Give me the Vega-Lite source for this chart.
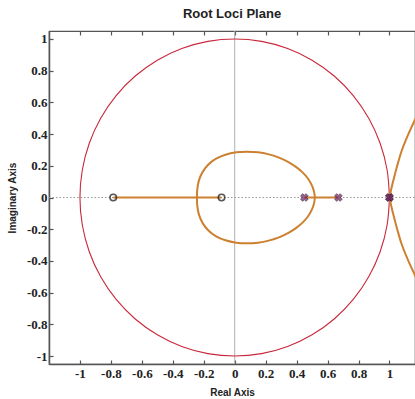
{
  "$schema": "https://vega.github.io/schema/vega-lite/v6.json",
  "autosize": "none",
  "width": 366,
  "height": 333,
  "padding": {"left": 49, "top": 31, "right": 0, "bottom": 35},
  "background": "white",
  "title": {"text": "Root Loci Plane", "fontSize": 13, "fontWeight": "bold", "font": "Liberation Sans", "color": "#222", "anchor": "middle", "offset": 9},
  "config": {
    "view": {"stroke": "#555", "strokeWidth": 1.2},
    "axis": {"grid": false, "domainColor": "#555", "domainWidth": 1.5, "tickColor": "#555", "tickSize": -4, "tickWidth": 1.2,
      "labelFont": "Liberation Sans Narrow", "labelFontWeight": "bold", "labelFontSize": 13, "labelColor": "#222",
      "titleFont": "Liberation Sans", "titleFontWeight": "bold", "titleFontSize": 10, "titleColor": "#222"}
  },
  "datasets": {
    "circle": [
      {"i":0,"x":1,"y":0},{"i":1,"x":0.9848,"y":0.1736},{"i":2,"x":0.9397,"y":0.342},{"i":3,"x":0.866,"y":0.5},{"i":4,"x":0.766,"y":0.6428},{"i":5,"x":0.6428,"y":0.766},{"i":6,"x":0.5,"y":0.866},{"i":7,"x":0.342,"y":0.9397},{"i":8,"x":0.1736,"y":0.9848},{"i":9,"x":0,"y":1},
      {"i":10,"x":-0.1736,"y":0.9848},{"i":11,"x":-0.342,"y":0.9397},{"i":12,"x":-0.5,"y":0.866},{"i":13,"x":-0.6428,"y":0.766},{"i":14,"x":-0.766,"y":0.6428},{"i":15,"x":-0.866,"y":0.5},{"i":16,"x":-0.9397,"y":0.342},{"i":17,"x":-0.9848,"y":0.1736},{"i":18,"x":-1,"y":0},
      {"i":19,"x":-0.9848,"y":-0.1736},{"i":20,"x":-0.9397,"y":-0.342},{"i":21,"x":-0.866,"y":-0.5},{"i":22,"x":-0.766,"y":-0.6428},{"i":23,"x":-0.6428,"y":-0.766},{"i":24,"x":-0.5,"y":-0.866},{"i":25,"x":-0.342,"y":-0.9397},{"i":26,"x":-0.1736,"y":-0.9848},{"i":27,"x":0,"y":-1},
      {"i":28,"x":0.1736,"y":-0.9848},{"i":29,"x":0.342,"y":-0.9397},{"i":30,"x":0.5,"y":-0.866},{"i":31,"x":0.6428,"y":-0.766},{"i":32,"x":0.766,"y":-0.6428},{"i":33,"x":0.866,"y":-0.5},{"i":34,"x":0.9397,"y":-0.342},{"i":35,"x":0.9848,"y":-0.1736},{"i":36,"x":1,"y":0}
    ],
    "locus": [
      {"g":"loop","i":0,"x":0.518,"y":0},{"g":"loop","i":1,"x":0.512,"y":0.04},{"g":"loop","i":2,"x":0.497,"y":0.08},{"g":"loop","i":3,"x":0.473,"y":0.12},{"g":"loop","i":4,"x":0.44,"y":0.157},{"g":"loop","i":5,"x":0.4,"y":0.19},{"g":"loop","i":6,"x":0.35,"y":0.222},{"g":"loop","i":7,"x":0.29,"y":0.25},{"g":"loop","i":8,"x":0.22,"y":0.272},{"g":"loop","i":9,"x":0.15,"y":0.285},{"g":"loop","i":10,"x":0.08,"y":0.289},{"g":"loop","i":11,"x":0.01,"y":0.285},{"g":"loop","i":12,"x":-0.06,"y":0.27},{"g":"loop","i":13,"x":-0.12,"y":0.245},{"g":"loop","i":14,"x":-0.17,"y":0.208},{"g":"loop","i":15,"x":-0.208,"y":0.16},{"g":"loop","i":16,"x":-0.232,"y":0.105},{"g":"loop","i":17,"x":-0.242,"y":0.05},{"g":"loop","i":18,"x":-0.244,"y":0},
      {"g":"loop","i":19,"x":-0.242,"y":-0.05},{"g":"loop","i":20,"x":-0.232,"y":-0.105},{"g":"loop","i":21,"x":-0.208,"y":-0.16},{"g":"loop","i":22,"x":-0.17,"y":-0.208},{"g":"loop","i":23,"x":-0.12,"y":-0.245},{"g":"loop","i":24,"x":-0.06,"y":-0.27},{"g":"loop","i":25,"x":0.01,"y":-0.285},{"g":"loop","i":26,"x":0.08,"y":-0.289},{"g":"loop","i":27,"x":0.15,"y":-0.285},{"g":"loop","i":28,"x":0.22,"y":-0.272},{"g":"loop","i":29,"x":0.29,"y":-0.25},{"g":"loop","i":30,"x":0.35,"y":-0.222},{"g":"loop","i":31,"x":0.4,"y":-0.19},{"g":"loop","i":32,"x":0.44,"y":-0.157},{"g":"loop","i":33,"x":0.473,"y":-0.12},{"g":"loop","i":34,"x":0.497,"y":-0.08},{"g":"loop","i":35,"x":0.512,"y":-0.04},{"g":"loop","i":36,"x":0.518,"y":0},
      {"g":"seg1","i":0,"x":-0.785,"y":0},{"g":"seg1","i":1,"x":-0.085,"y":0},
      {"g":"seg2","i":0,"x":0.45,"y":0},{"g":"seg2","i":1,"x":0.67,"y":0},
      {"g":"up","i":0,"x":1,"y":0},{"g":"up","i":1,"x":1.012,"y":0.055},{"g":"up","i":2,"x":1.027,"y":0.115},{"g":"up","i":3,"x":1.05,"y":0.2},{"g":"up","i":4,"x":1.079,"y":0.295},{"g":"up","i":5,"x":1.12,"y":0.395},{"g":"up","i":6,"x":1.165,"y":0.491},{"g":"up","i":7,"x":1.2,"y":0.56},
      {"g":"down","i":0,"x":1,"y":0},{"g":"down","i":1,"x":1.012,"y":-0.055},{"g":"down","i":2,"x":1.027,"y":-0.115},{"g":"down","i":3,"x":1.05,"y":-0.2},{"g":"down","i":4,"x":1.079,"y":-0.295},{"g":"down","i":5,"x":1.12,"y":-0.395},{"g":"down","i":6,"x":1.165,"y":-0.491},{"g":"down","i":7,"x":1.2,"y":-0.56}
    ],
    "zeros": [{"x":-0.785,"y":0},{"x":-0.085,"y":0}],
    "poles": [{"x":0.45,"y":0},{"x":0.67,"y":0},{"x":1,"y":0},{"x":1,"y":0}],
    "vline": [{"x":0,"y":-1.05,"y2":1.05}],
    "hline": [{"x":-1.2,"x2":1.2,"y":0}]
  },
  "resolve": {"axis": {"x": "independent", "y": "independent"}},
  "layer": [
    {
      "data": {"name": "vline"},
      "mark": {"type": "rule", "color": "#b0b0b0", "strokeWidth": 1},
      "encoding": {
        "x": {"field": "x", "type": "quantitative", "scale": {"domain": [-1.2, 1.165], "nice": false, "zero": false},
          "axis": {"orient": "bottom", "values": [-1,-0.8,-0.6,-0.4,-0.2,0,0.2,0.4,0.6,0.8,1], "labelExpr": "'' + datum.value", "labelPadding": 7, "title": "Real Axis", "titlePadding": 7}},
        "y": {"field": "y", "type": "quantitative", "scale": {"domain": [-1.05, 1.05], "nice": false, "zero": false},
          "axis": {"orient": "left", "values": [-1,-0.8,-0.6,-0.4,-0.2,0,0.2,0.4,0.6,0.8,1], "labelExpr": "'' + datum.value", "labelPadding": 6, "title": "Imaginary Axis", "titlePadding": 9}},
        "y2": {"field": "y2"}
      }
    },
    {
      "data": {"name": "hline"},
      "mark": {"type": "rule", "color": "#999", "strokeWidth": 1, "strokeDash": [1.5, 2], "clip": true},
      "encoding": {
        "x": {"field": "x", "type": "quantitative", "axis": {"orient": "top", "values": [-1,-0.8,-0.6,-0.4,-0.2,0,0.2,0.4,0.6,0.8,1], "labels": false, "title": null, "domain": false}},
        "x2": {"field": "x2"},
        "y": {"field": "y", "type": "quantitative", "axis": null}
      }
    },
    {
      "data": {"name": "circle"},
      "mark": {"type": "line", "color": "#c8283c", "strokeWidth": 1.1, "interpolate": "cardinal", "clip": true},
      "encoding": {
        "x": {"field": "x", "type": "quantitative", "axis": null},
        "y": {"field": "y", "type": "quantitative", "axis": null},
        "order": {"field": "i"}
      }
    },
    {
      "data": {"name": "locus"},
      "mark": {"type": "line", "color": "#cc8030", "strokeWidth": 2, "interpolate": "catmull-rom", "clip": true},
      "encoding": {
        "x": {"field": "x", "type": "quantitative", "axis": null},
        "y": {"field": "y", "type": "quantitative", "axis": null},
        "detail": {"field": "g"},
        "order": {"field": "i"}
      }
    },
    {
      "data": {"name": "zeros"},
      "mark": {"type": "point", "shape": "circle", "size": 42, "filled": false, "stroke": "#111", "strokeWidth": 1.6},
      "encoding": {
        "x": {"field": "x", "type": "quantitative", "axis": null},
        "y": {"field": "y", "type": "quantitative", "axis": null}
      }
    },
    {
      "data": {"name": "poles"},
      "mark": {"type": "point", "shape": "cross", "angle": 45, "size": 60, "filled": true, "fill": "#6b2060", "stroke": "#2a0a2a", "strokeWidth": 0.8},
      "encoding": {
        "x": {"field": "x", "type": "quantitative", "axis": null},
        "y": {"field": "y", "type": "quantitative", "axis": null}
      }
    }
  ]
}
